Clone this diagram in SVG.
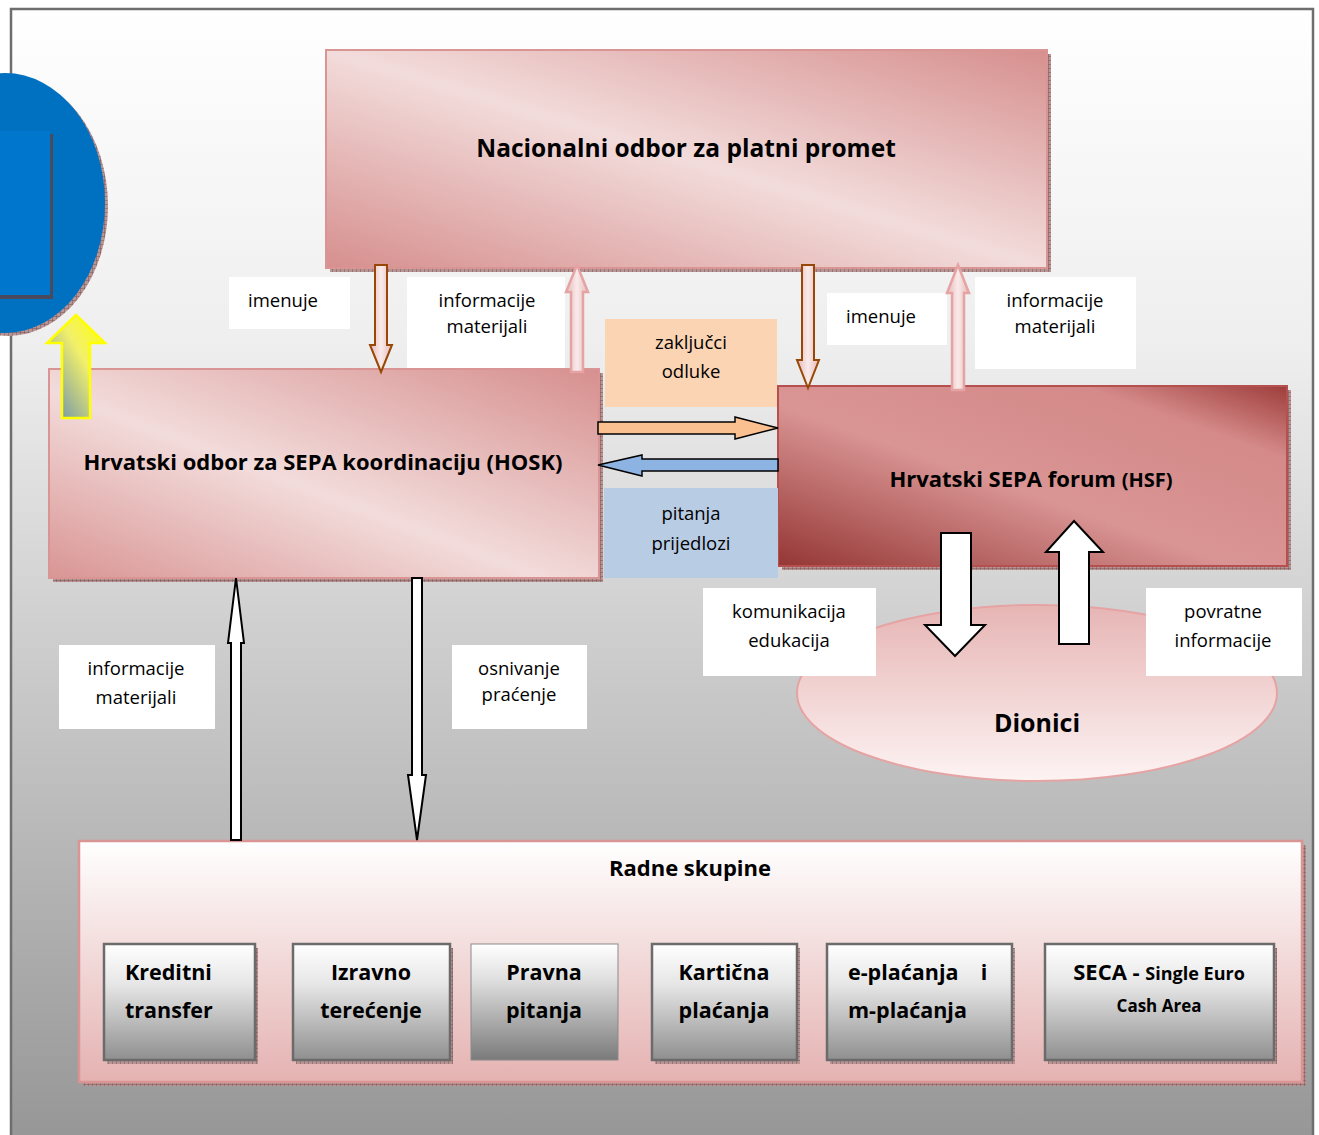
<svg xmlns="http://www.w3.org/2000/svg" width="1319" height="1135" viewBox="0 0 1319 1135">
<defs>
<style>
.lbl{font-family:"Open Sans",Lato,"Liberation Sans",sans-serif;font-size:18.5px;fill:#000;text-anchor:middle}
.ttl{font-family:"Open Sans",Lato,"Liberation Sans",sans-serif;font-weight:bold;fill:#000;text-anchor:middle}
.wg{font-family:"Open Sans",Lato,"Liberation Sans",sans-serif;font-weight:bold;font-size:21.5px;fill:#000}
.wbox{fill:#fff}
.gbox{fill:url(#gGray);stroke:#6b6b6b;stroke-width:2.5}
.shadow{fill:url(#hatch)}
.thin{fill:#fff;stroke:#000;stroke-width:2}
.brown{fill:url(#gArrow);stroke:#984806;stroke-width:2}
.pinkA{fill:url(#gArrow);stroke:#e6a3a3;stroke-width:2.5}
</style>
<pattern id="hatch" width="4" height="4" patternUnits="userSpaceOnUse">
<rect width="4" height="4" fill="#b89595"/>
<path d="M0 0H4M0 0V4" stroke="#7d5454" stroke-width="1"/>
</pattern>
<linearGradient id="gBg" x1="0" y1="0" x2="0" y2="1">
<stop offset="0" stop-color="#ffffff"/>
<stop offset="0.3" stop-color="#eeeeee"/>
<stop offset="1" stop-color="#969696"/>
</linearGradient>
<linearGradient id="gTop" x1="0" y1="1" x2="1" y2="0">
<stop offset="0" stop-color="#d68f8e"/>
<stop offset="0.5" stop-color="#f2dcdb"/>
<stop offset="1" stop-color="#d68f8e"/>
</linearGradient>
<linearGradient id="gHosk" x1="0" y1="1" x2="1" y2="0">
<stop offset="0" stop-color="#d99594"/>
<stop offset="0.45" stop-color="#f2dcdb"/>
<stop offset="1" stop-color="#d68f8e"/>
</linearGradient>
<linearGradient id="gHsf" x1="0" y1="1" x2="1" y2="0">
<stop offset="0" stop-color="#943634"/>
<stop offset="0.45" stop-color="#d99594"/>
<stop offset="0.8" stop-color="#d48a89"/>
<stop offset="1" stop-color="#9e3d3b"/>
</linearGradient>
<linearGradient id="gRad" x1="0" y1="0" x2="0" y2="1">
<stop offset="0" stop-color="#ffffff"/>
<stop offset="1" stop-color="#e4b2b1"/>
</linearGradient>
<linearGradient id="gDion" x1="0" y1="0" x2="0" y2="1">
<stop offset="0" stop-color="#e6b5b4"/>
<stop offset="1" stop-color="#fdf3f3"/>
</linearGradient>
<linearGradient id="gGray" x1="0" y1="0" x2="0" y2="1">
<stop offset="0" stop-color="#ffffff"/>
<stop offset="0.35" stop-color="#e6e6e6"/>
<stop offset="1" stop-color="#8f8f8f"/>
</linearGradient>
<linearGradient id="gGray2" x1="0" y1="0" x2="0" y2="1">
<stop offset="0" stop-color="#ffffff"/>
<stop offset="0.3" stop-color="#e0e0e0"/>
<stop offset="1" stop-color="#7a7a7a"/>
</linearGradient>
<linearGradient id="gArrow" x1="0" y1="0" x2="1" y2="0">
<stop offset="0" stop-color="#e6b9b8"/>
<stop offset="0.5" stop-color="#f9eaea"/>
<stop offset="1" stop-color="#e6b9b8"/>
</linearGradient>
<linearGradient id="gYel" x1="0" y1="1" x2="1" y2="0">
<stop offset="0" stop-color="#5b84b8"/>
<stop offset="0.6" stop-color="#f2f06a"/>
<stop offset="1" stop-color="#ffff00"/>
</linearGradient>
</defs>

<rect x="11" y="9" width="1302" height="1135" fill="url(#gBg)" stroke="#6e6e6e" stroke-width="2.5"/>

<g id="blue-circle">
<ellipse cx="8" cy="206" rx="100" ry="130" class="shadow"/>
<ellipse cx="5" cy="203" rx="100" ry="130" fill="#0070c0"/>
<rect x="0" y="134" width="53" height="165" fill="#4a4a5e"/>
<rect x="0" y="131" width="50" height="164" fill="#0077cc"/>
</g>

<g id="top-node">
<rect x="330" y="54" width="721" height="218" class="shadow"/>
<rect x="326" y="50" width="721" height="218" fill="url(#gTop)" stroke="#d99594" stroke-width="2"/>
<text class="ttl" x="686" y="157" font-size="24.5">Nacionalni odbor za platni promet</text>
</g>

<g id="hosk-node">
<rect x="53" y="373" width="550" height="209" class="shadow"/>
<rect x="49" y="369" width="550" height="209" fill="url(#gHosk)" stroke="#d99594" stroke-width="2"/>
<text class="ttl" x="323" y="470" font-size="22">Hrvatski odbor za SEPA koordinaciju (HOSK)</text>
</g>

<g id="hsf-node">
<rect x="782" y="390" width="509" height="180" class="shadow"/>
<rect x="778" y="386" width="509" height="180" fill="url(#gHsf)" stroke="#b5504e" stroke-width="2"/>
<text class="ttl" x="1031" y="487" font-size="22">Hrvatski SEPA forum <tspan font-size="20">(HSF)</tspan></text>
</g>

<g id="dionici-node">
<ellipse cx="1037" cy="693" rx="240" ry="88" fill="url(#gDion)" stroke="#e6a3a3" stroke-width="2"/>
<text class="ttl" x="1037" y="732" font-size="25">Dionici</text>
</g>

<g id="radne-node">
<rect x="83" y="845" width="1223" height="241" class="shadow"/>
<rect x="79" y="841" width="1223" height="241" fill="url(#gRad)" stroke="#d99594" stroke-width="2.5"/>
<text class="ttl" x="690" y="876" font-size="22">Radne skupine</text>
</g>

<g id="wg-kreditni">
<rect x="107" y="948" width="151" height="116" class="shadow"/>
<rect x="104" y="944" width="151" height="116" class="gbox"/>
<text class="wg" x="125" y="980">Kreditni</text>
<text class="wg" x="125" y="1018">transfer</text>
</g>
<g id="wg-izravno">
<rect x="296" y="948" width="157" height="116" class="shadow"/>
<rect x="293" y="944" width="157" height="116" class="gbox"/>
<text class="wg" x="371" y="980" text-anchor="middle">Izravno</text>
<text class="wg" x="371" y="1018" text-anchor="middle">terećenje</text>
</g>
<g id="wg-pravna">
<rect x="471" y="944" width="147" height="116" fill="url(#gGray2)" stroke="#8a8a8a" stroke-width="1"/>
<text class="wg" x="544" y="980" text-anchor="middle">Pravna</text>
<text class="wg" x="544" y="1018" text-anchor="middle">pitanja</text>
</g>
<g id="wg-karticna">
<rect x="655" y="948" width="145" height="116" class="shadow"/>
<rect x="652" y="944" width="145" height="116" class="gbox"/>
<text class="wg" x="724" y="980" text-anchor="middle">Kartična</text>
<text class="wg" x="724" y="1018" text-anchor="middle">plaćanja</text>
</g>
<g id="wg-eplacanja">
<rect x="830" y="948" width="185" height="116" class="shadow"/>
<rect x="827" y="944" width="185" height="116" class="gbox"/>
<text class="wg" x="848" y="980" xml:space="preserve">e-plaćanja    i</text>
<text class="wg" x="848" y="1018">m-plaćanja</text>
</g>
<g id="wg-seca">
<rect x="1048" y="948" width="229" height="116" class="shadow"/>
<rect x="1045" y="944" width="229" height="116" class="gbox"/>
<text class="wg" x="1159" y="980" text-anchor="middle" style="font-size:22px">SECA - <tspan style="font-size:18px">Single Euro</tspan></text>
<text class="wg" x="1159" y="1012" text-anchor="middle" style="font-size:17px">Cash Area</text>
</g>

<g id="labels">
<rect class="wbox" x="229" y="277" width="121" height="52"/>
<text class="lbl" x="283" y="307">imenuje</text>
<rect class="wbox" x="407" y="277" width="158" height="91"/>
<text class="lbl" x="487" y="307">informacije</text>
<text class="lbl" x="487" y="333">materijali</text>
<rect x="605" y="319" width="172" height="88" fill="#fbd4b4"/>
<text class="lbl" x="691" y="349">zaključci</text>
<text class="lbl" x="691" y="378">odluke</text>
<rect class="wbox" x="827" y="293" width="120" height="52"/>
<text class="lbl" x="881" y="323">imenuje</text>
<rect class="wbox" x="975" y="277" width="161" height="92"/>
<text class="lbl" x="1055" y="307">informacije</text>
<text class="lbl" x="1055" y="333">materijali</text>
<rect x="604" y="488" width="174" height="90" fill="#b8cce4"/>
<text class="lbl" x="691" y="520">pitanja</text>
<text class="lbl" x="691" y="550">prijedlozi</text>
<rect class="wbox" x="703" y="588" width="173" height="88"/>
<text class="lbl" x="789" y="618">komunikacija</text>
<text class="lbl" x="789" y="647">edukacija</text>
<rect class="wbox" x="1146" y="588" width="156" height="88"/>
<text class="lbl" x="1223" y="618">povratne</text>
<text class="lbl" x="1223" y="647">informacije</text>
<rect class="wbox" x="59" y="645" width="156" height="84"/>
<text class="lbl" x="136" y="675">informacije</text>
<text class="lbl" x="136" y="704">materijali</text>
<rect class="wbox" x="452" y="645" width="135" height="84"/>
<text class="lbl" x="519" y="675">osnivanje</text>
<text class="lbl" x="519" y="701">praćenje</text>
</g>

<g id="connectors">
<polygon points="76,315 105,343 90,343 90,418 62,418 62,343 47,343" fill="url(#gYel)" stroke="#ffff00" stroke-width="2.5"/>
<polygon class="brown" points="375,265 387,265 387,345 392,345 381,372 370,345 375,345"/>
<polygon class="pinkA" points="577,265 588,292 583,292 583,372 571,372 571,292 566,292"/>
<polygon class="brown" points="802,265 814,265 814,360 819,360 808,388 797,360 802,360"/>
<polygon class="pinkA" points="958,265 969,293 964,293 964,390 952,390 952,293 947,293"/>
<polygon points="598,422 735,422 735,417 778,428 735,439 735,434 598,434" fill="#fac090" stroke="#000" stroke-width="1.5"/>
<polygon points="778,459 642,459 642,455 598,465 642,476 642,471 778,471" fill="#8db3e2" stroke="#000" stroke-width="1.5"/>
<polygon class="thin" points="941,533 971,533 971,625 985,625 955,656 925,625 941,625"/>
<polygon class="thin" points="1074,521 1103,552 1089,552 1089,644 1059,644 1059,552 1046,552"/>
<polygon class="thin" points="236,578 244,643 241,643 241,840 231,840 231,643 228,643"/>
<polygon class="thin" points="412,578 422,578 422,775 426,775 417,840 408,775 412,775"/>
</g>
</svg>
